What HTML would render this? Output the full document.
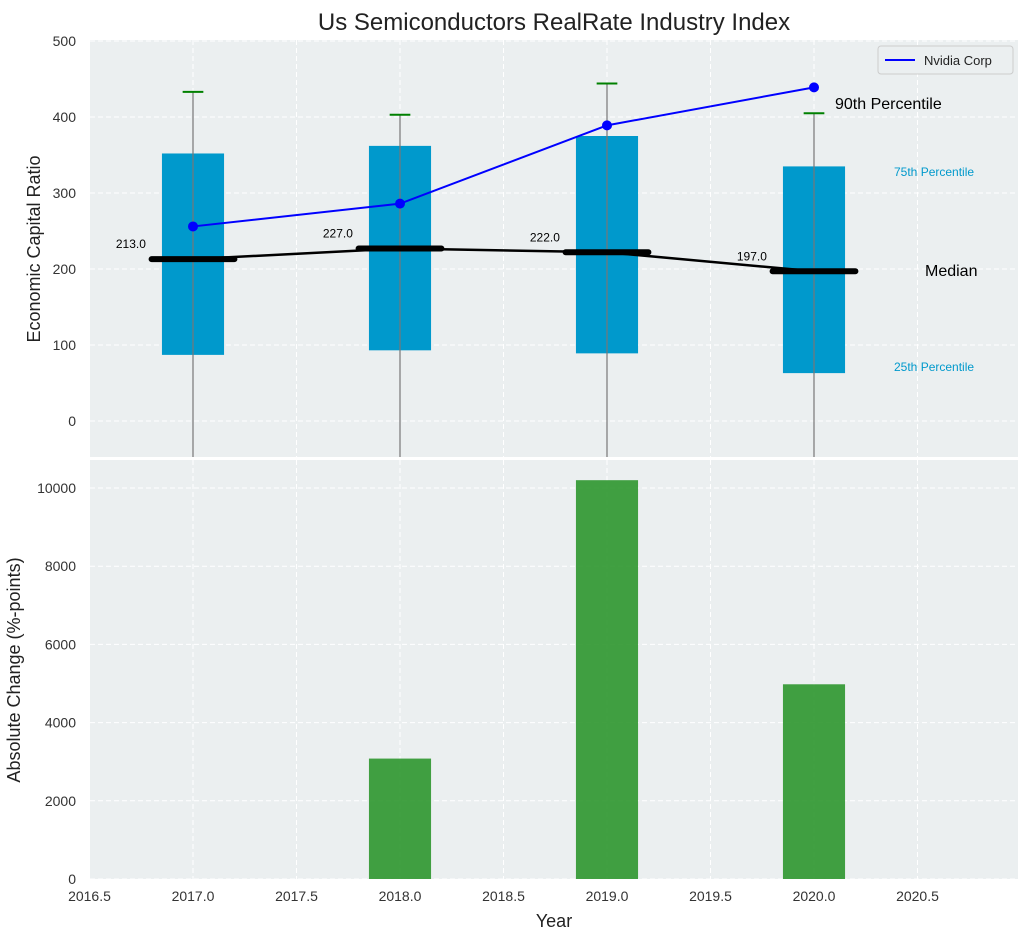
<!DOCTYPE html>
<html><head><meta charset="utf-8"><style>
body{margin:0;background:#fff;font-family:"Liberation Sans",sans-serif}
svg text{font-family:"Liberation Sans",sans-serif}
</style></head><body>
<svg id="c" width="1029" height="940" xmlns="http://www.w3.org/2000/svg"></svg>
<script>
const years=[2017,2018,2019,2020];
const q25=[87,93,89,63];
const q75=[352,362,375,335];
const p90=[433,403,444,405];
const medians=[213,227,222,197];
const nvidia=[256,286,389,439];
const changes=[0,3080,10200,4980];
const xTicks=[2016.5,2017.0,2017.5,2018.0,2018.5,2019.0,2019.5,2020.0,2020.5];
const yTopTicks=[0,100,200,300,400,500];
const yBotTicks=[0,2000,4000,6000,8000,10000];

const NS='http://www.w3.org/2000/svg';
const svg=document.getElementById('c');
function mk(t,a,p){const e=document.createElementNS(NS,t);for(const k in a)e.setAttribute(k,a[k]);(p||svg).appendChild(e);return e;}
const L=90,R=1018;
const x=v=>193+(v-2017)*207;
const T0=40,T1=457,yt=v=>421-v*0.76;
const B0=460,B1=879,yb=v=>879-v*(391/10000);

let t=mk('text',{x:554,y:30,'text-anchor':'middle','font-size':24,fill:'#222'});t.textContent='Us Semiconductors RealRate Industry Index';


function panel(y0,y1,ticks,yf,name){
  const g=mk('g',{});
  mk('rect',{x:L,y:y0,width:R-L,height:y1-y0,fill:'#ebeff0'},g);
  xTicks.forEach(v=>mk('line',{x1:x(v),x2:x(v),y1:y0,y2:y1,stroke:'#fff','stroke-dasharray':'5,3','stroke-width':1},g));
  ticks.forEach(v=>{mk('line',{x1:L,x2:R,y1:yf(v),y2:yf(v),stroke:'#fff','stroke-dasharray':'5,3'},g);
    const tx=mk('text',{x:L-14,y:yf(v)+5,'text-anchor':'end','font-size':14,fill:'#333'},g);tx.textContent=v;
    });
  return g;
}
const gt=panel(T0,T1,yTopTicks,yt,'top-panel');
const gb=panel(B0,B1,yBotTicks,yb,'bottom-panel');

const bw=0.3;
years.forEach((yr,i)=>{
  const r=mk('rect',{x:x(yr-bw/2),y:yt(q75[i]),width:x(yr+bw/2)-x(yr-bw/2),height:yt(q25[i])-yt(q75[i]),fill:'#0099cc'},gt);
  
  const w=mk('line',{x1:x(yr),x2:x(yr),y1:T1,y2:yt(p90[i]),stroke:'#777','stroke-width':1.2},gt);
  
  const c=mk('line',{x1:x(yr-0.05),x2:x(yr+0.05),y1:yt(p90[i]),y2:yt(p90[i]),stroke:'green','stroke-width':2},gt);
  
});
let mp=years.map((yr,i)=>x(yr)+','+yt(medians[i])).join(' ');
let ml=mk('polyline',{points:mp,fill:'none',stroke:'#000','stroke-width':2.5},gt);

years.forEach((yr,i)=>{
  const m=mk('line',{x1:x(yr-0.2),x2:x(yr+0.2),y1:yt(medians[i]),y2:yt(medians[i]),stroke:'#000','stroke-width':6,'stroke-linecap':'round'},gt);
  
  const lb=mk('text',{x:x(yr-0.3),y:yt(medians[i])-11,'text-anchor':'middle','font-size':12,fill:'#000'},gt);lb.textContent=medians[i].toFixed(1);
  
});
let np=years.map((yr,i)=>x(yr)+','+yt(nvidia[i])).join(' ');
let nl=mk('polyline',{points:np,fill:'none',stroke:'#0000ff','stroke-width':2},gt);

years.forEach((yr,i)=>{const d=mk('circle',{cx:x(yr),cy:yt(nvidia[i]),r:5,fill:'#0000ff'},gt);
  });
[['90th Percentile',835,109,16,'#000'],['75th Percentile',894,176,12,'#0099cc'],['Median',925,276,16,'#000'],['25th Percentile',894,371,12,'#0099cc']].forEach(a=>{
  const e=mk('text',{x:a[1],y:a[2],'font-size':a[3],fill:a[4]},gt);e.textContent=a[0];
  });
const lg=mk('g',{});
mk('rect',{x:878,y:46,width:135,height:28,fill:'#ebeff0',stroke:'#ccc',rx:3},lg);
mk('line',{x1:885,x2:915,y1:60,y2:60,stroke:'#0000ff','stroke-width':2},lg);
let lt=mk('text',{x:924,y:65,'font-size':13,fill:'#222'},lg);lt.textContent='Nvidia Corp';

let yl=mk('text',{x:40,y:249,'text-anchor':'middle','font-size':18,fill:'#222',transform:'rotate(-90 40 249)'});yl.textContent='Economic Capital Ratio';


years.forEach((yr,i)=>{if(!changes[i])return;
  const b=mk('rect',{x:x(yr-bw/2),y:yb(changes[i]),width:x(yr+bw/2)-x(yr-bw/2),height:yb(0)-yb(changes[i]),fill:'#2e962e',opacity:0.9},gb);
  });
xTicks.forEach(v=>{const e=mk('text',{x:x(v),y:B1+22,'text-anchor':'middle','font-size':14,fill:'#333'});e.textContent=v.toFixed(1);
  });
let xl=mk('text',{x:554,y:927,'text-anchor':'middle','font-size':18,fill:'#222'});xl.textContent='Year';

let yl2=mk('text',{x:20,y:670,'text-anchor':'middle','font-size':18,fill:'#222',transform:'rotate(-90 20 670)'});yl2.textContent='Absolute Change (%-points)';

</script>
</body></html>
